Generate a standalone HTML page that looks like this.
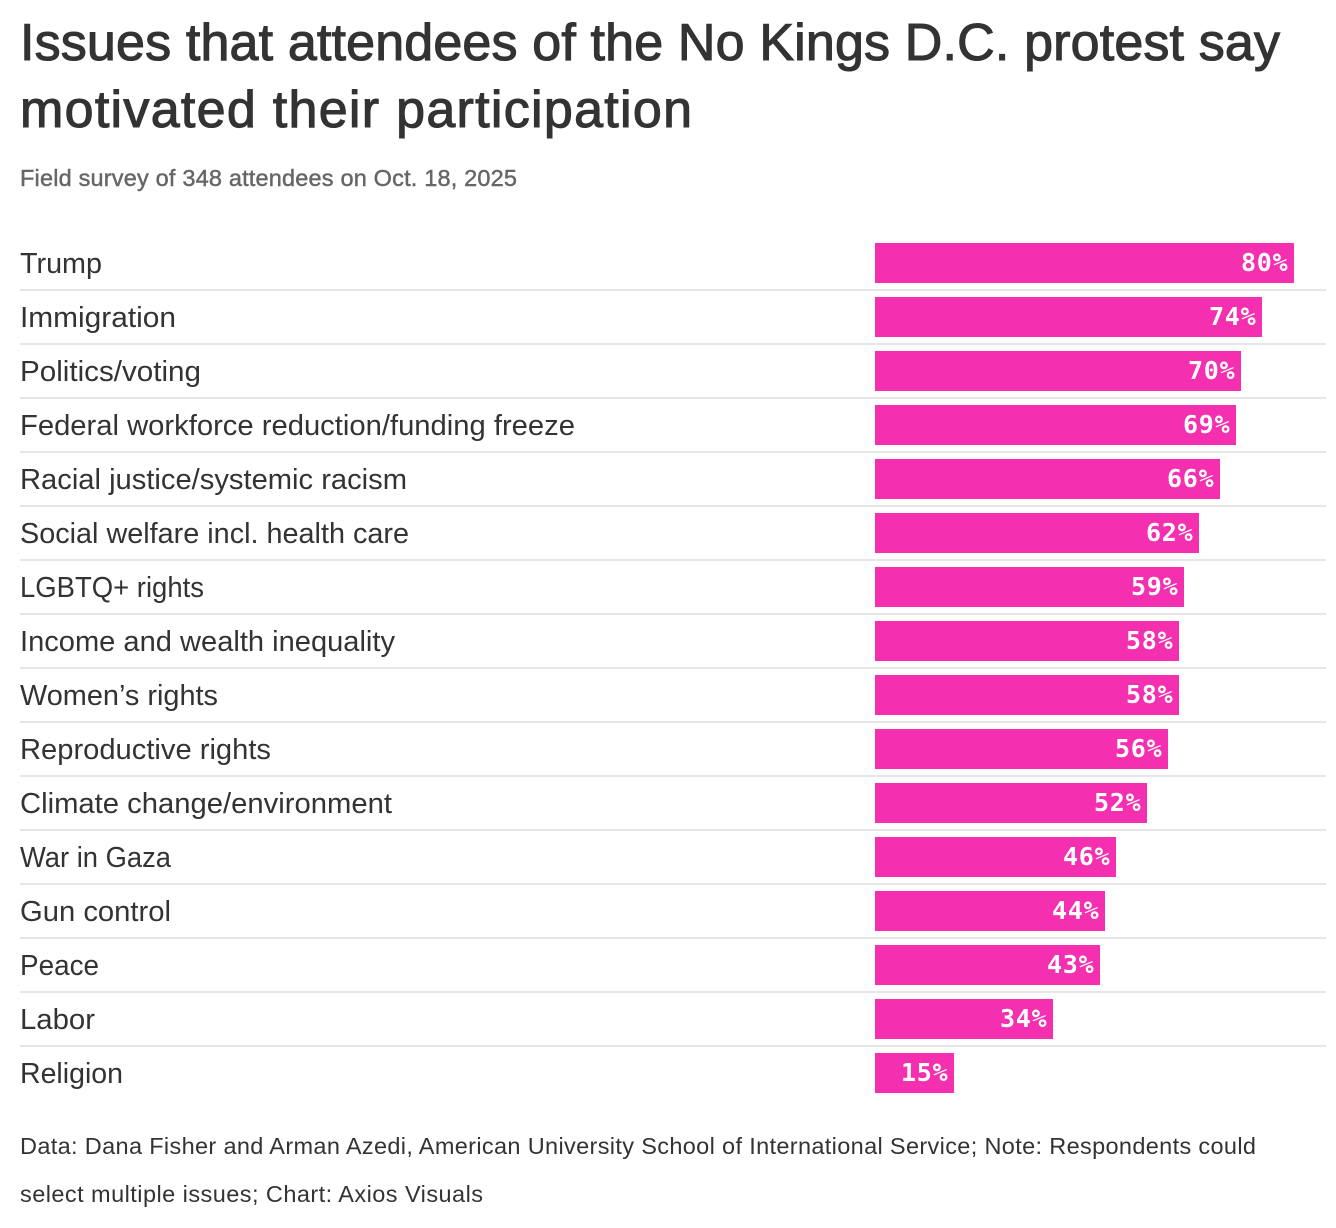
<!DOCTYPE html>
<html lang="en">
<head>
<meta charset="utf-8">
<title>Issues that attendees of the No Kings D.C. protest say motivated their participation</title>
<style>
html,body{margin:0;padding:0;background:#fff;width:1336px;height:1228px;overflow:hidden}
svg{display:block}
text{font-family:"Liberation Sans",sans-serif}
.title{font-size:52px;fill:#333;stroke:#333;stroke-width:1.1px}
.sub{font-size:23.5px;fill:#666;stroke:#666;stroke-width:.45px}
.label{font-size:29px;fill:#333}
.value{font-family:"DejaVu Sans Mono",monospace;font-size:25px;font-weight:700;fill:#fff;letter-spacing:.8px}
.foot{font-size:23.5px;fill:#333}
</style>
</head>
<body>
<svg id="chart" xmlns="http://www.w3.org/2000/svg" width="1336" height="1228" viewBox="0 0 1336 1228">
<text class="title" x="20" y="60" textLength="1260" lengthAdjust="spacing">Issues that attendees of the No Kings D.C. protest say</text>
<text class="title" x="20" y="127" textLength="672" lengthAdjust="spacing">motivated their participation</text>
<text class="sub" x="20" y="186" textLength="497" lengthAdjust="spacing">Field survey of 348 attendees on Oct. 18, 2025</text>
<g id="rows"></g>
<text class="foot" x="20" y="1154" textLength="1236" lengthAdjust="spacing">Data: Dana Fisher and Arman Azedi, American University School of International Service; Note: Respondents could</text>
<text class="foot" x="20" y="1202" textLength="463" lengthAdjust="spacing">select multiple issues; Chart: Axios Visuals</text>
</svg>
<script>
const categories = ["Trump","Immigration","Politics/voting","Federal workforce reduction/funding freeze","Racial justice/systemic racism","Social welfare incl. health care","LGBTQ+ rights","Income and wealth inequality","Women’s rights","Reproductive rights","Climate change/environment","War in Gaza","Gun control","Peace","Labor","Religion"];
const values = [80,74,70,69,66,62,59,58,58,56,52,46,44,43,34,15];

const NS = "http://www.w3.org/2000/svg";
const x = v => 875 + Math.round(v * 5.2335);
const rowTop = i => 243 + i * 54;
const group = document.getElementById("rows");
const slug = s => s.toLowerCase().replace(/[^a-z0-9]+/g, "-").replace(/^-|-$/g, "");

function add(tag, attrs, text) {
  const el = document.createElementNS(NS, tag);
  for (const k in attrs) el.setAttribute(k, attrs[k]);
  if (text !== undefined) el.textContent = text;
  group.appendChild(el);
  return el;
}

function draw() {
  // Rendered text widths, used only to fit the substitute font to the original label lengths.
  const labelFit = [82,156,181,555,387,389,184,375,198,251,372,151,151,79,75,103];
  categories.forEach((cat, i) => {
    const top = rowTop(i);
    const s = slug(cat);
    const label = add("text", {class: "label", x: 20, y: top + 30, textLength: labelFit[i], lengthAdjust: "spacingAndGlyphs"}, cat);
    
    
    const bar = add("rect", {x: x(0), y: top, width: x(values[i]) - x(0), height: 40, fill: "#f42fb0"});
    
    
    const val = add("text", {class: "value", x: x(values[i]) - 5.5, y: top + 28, "text-anchor": "end"}, values[i] + "%");
    
    
    if (i < categories.length - 1) {
      const rule = add("rect", {x: 20, y: top + 46, width: 1306, height: 2, fill: "#e6e6e6"});
      
      
    }
  });
}
draw();
</script>
</body>
</html>
